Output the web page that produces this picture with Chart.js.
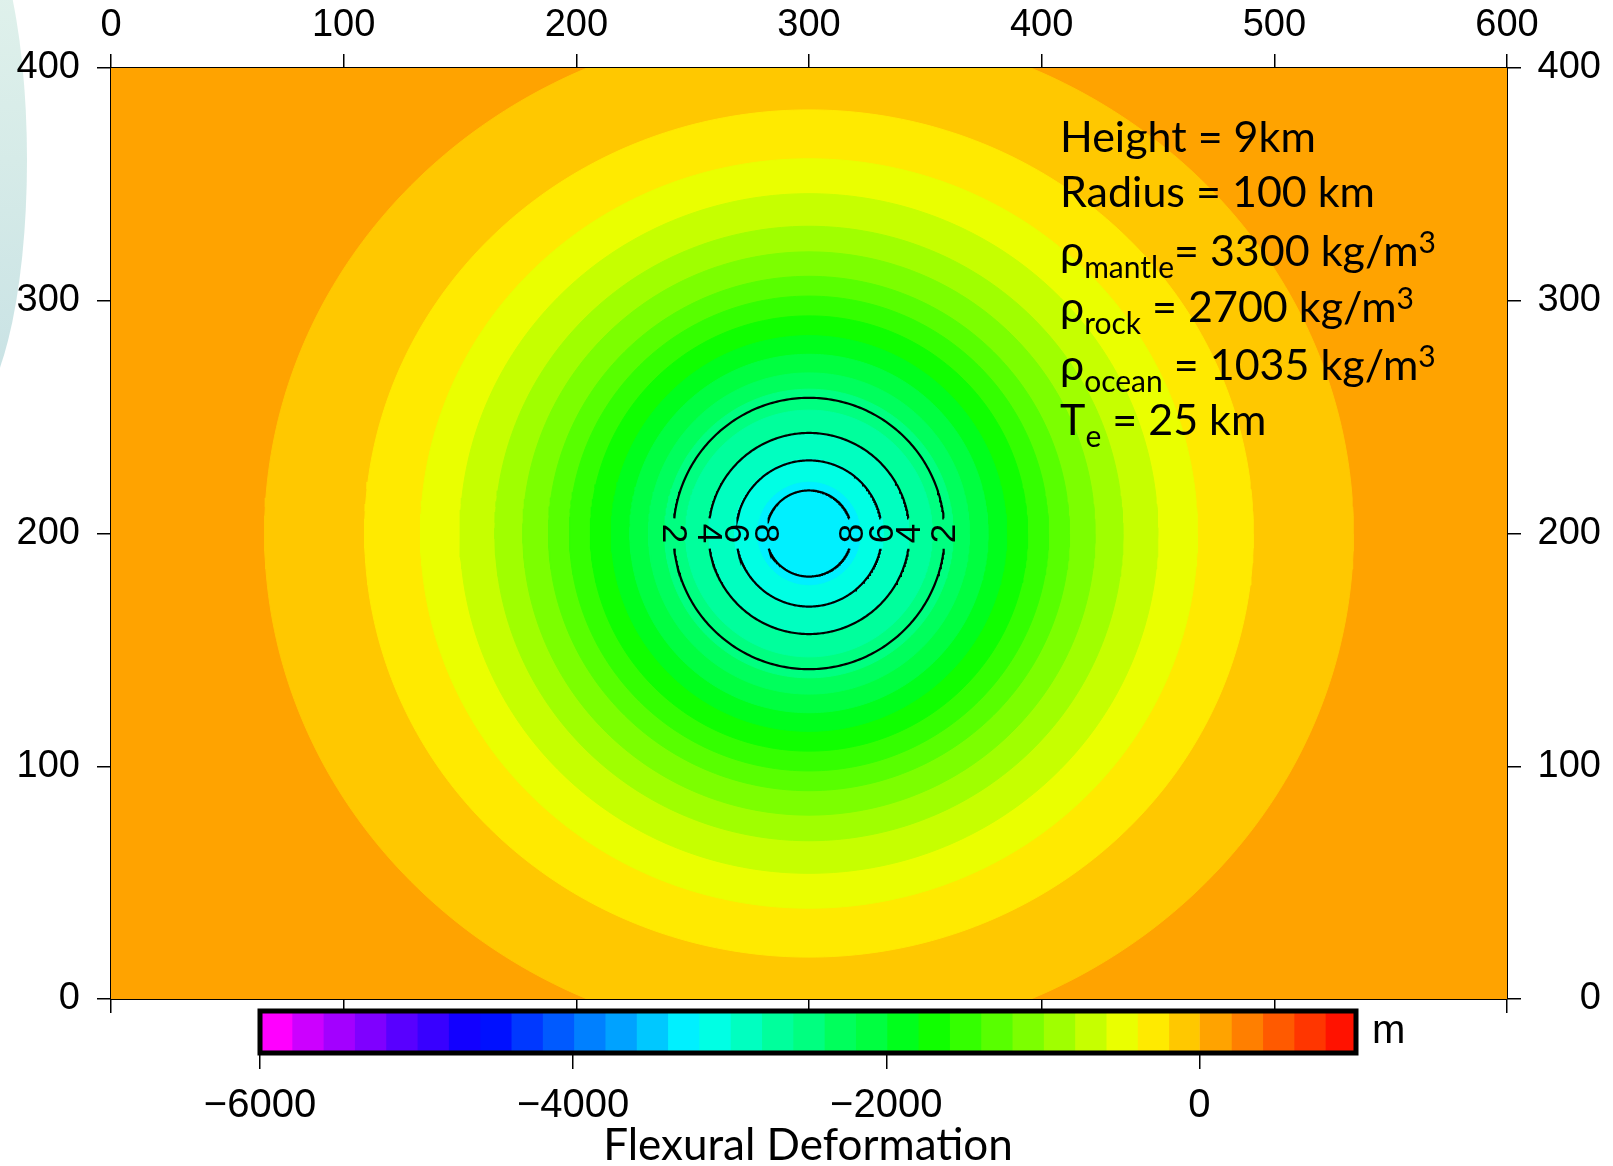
<!DOCTYPE html>
<html>
<head>
<meta charset="utf-8">
<script src="https://cdn.jsdelivr.net/npm/chart.js@4.4.0/dist/chart.umd.min.js"></script>
<style>
  html, body { margin: 0; padding: 0; background: #fff; }
  #wrap { position: relative; width: 1613px; height: 1166px; overflow: hidden; }
  #swoosh { position: absolute; left: -102px; top: -95px; width: 129px; height: 510px; border-radius: 50%;
    background: linear-gradient(180deg, #e4f4ed 0%, #d6ebe8 50%, #c7e1e4 100%); }
  canvas { position: absolute; left: 0; top: 0; }
</style>
</head>
<body>
<div id="wrap">
  <div id="swoosh"></div>
  <canvas id="map" width="1613" height="1166"></canvas>
  <canvas id="bar" width="1613" height="1166"></canvas>
</div>
<script>
// --- data -------------------------------------------------------------
const xRange = [0, 600];          // km
const yRange = [0, 400];          // km
const centre = [300, 200];        // km, centre of the load

// colour scale: bin edges (m) and one colour per bin
const levels = [-6000, -5800, -5600, -5400, -5200, -5000, -4800, -4600, -4400, -4200,
  -4000, -3800, -3600, -3400, -3200, -3000, -2800, -2600, -2400, -2200,
  -2000, -1800, -1600, -1400, -1200, -1000, -800, -600, -400, -200,
  0, 200, 400, 600, 800, 1000];
const palette = ['#ff00ff', '#cc00ff', '#a300ff', '#7f00ff', '#5800ff', '#3800ff', '#1200ff',
  '#0010ff', '#0038ff', '#005aff', '#0080ff', '#00a2ff', '#00c8ff', '#00f0ff',
  '#00ffe4', '#00ffc0', '#00ff9c', '#00ff80', '#00ff5c', '#00ff40', '#00ff1c',
  '#10ff00', '#34ff00', '#58ff00', '#7cff00', '#a0ff00', '#c6ff00', '#eaff00',
  '#ffea00', '#ffc800', '#ffa300', '#ff7f00', '#ff5a00', '#ff3600', '#ff1200'];
const colourTicks = [-6000, -4000, -2000, 0];

// filled bands around the centre: outer half-widths along x and y (km) and colour bin
const bandRadiusX = [22, 32, 43, 53, 62, 69, 77, 85, 94, 103, 112, 123, 135, 150, 167, 191, 234];
const bandRadiusY = [22, 32, 43, 53, 62, 69, 77, 85, 93.5, 102, 110.5, 121, 132, 146, 161, 182, 219];
const bandBin     = [13, 14, 15, 16, 17, 18, 19, 20, 21, 22, 23, 24, 25, 26, 27, 28, 29];
const outsideBin = 30;

// black contour lines
const contourRadius = [58.3, 43.2, 31.4, 18.5];
const contourLabel  = ['2', '4', '6', '8'];
const labelGap = 6.5; // km, half height of the gap left for a label

const ticksX = [0, 100, 200, 300, 400, 500, 600];
const ticksY = [0, 100, 200, 300, 400];

const notes = [
  [['Height = 9km']],
  [['Radius = 100 km']],
  [['ρ'], ['mantle', 'sub'], ['= 3300 kg/m'], ['3', 'sup']],
  [['ρ'], ['rock', 'sub'], [' = 2700 kg/m'], ['3', 'sup']],
  [['ρ'], ['ocean', 'sub'], [' = 1035 kg/m'], ['3', 'sup']],
  [['T'], ['e', 'sub'], [' = 25 km']]
];

// --- helpers ----------------------------------------------------------
function arc(rx, ry, a0, a1, n) {
  const pts = [];
  for (let i = 0; i <= n; i++) {
    const a = a0 + (a1 - a0) * i / n;
    pts.push({x: centre[0] + rx * Math.cos(a), y: centre[1] + ry * Math.sin(a)});
  }
  return pts;
}

Chart.defaults.font.family = '"Liberation Sans", Arial, sans-serif';
Chart.defaults.color = '#000';

const datasets = [];
contourRadius.forEach(r => {
  const g = Math.asin(labelGap / r);
  datasets.push({data: arc(r, r, g, Math.PI - g, 160), borderColor: '#000', borderWidth: 2.2, pointRadius: 0, fill: false});
  datasets.push({data: arc(r, r, Math.PI + g, 2 * Math.PI - g, 160), borderColor: '#000', borderWidth: 2.2, pointRadius: 0, fill: false});
});
bandRadiusX.forEach((rx, i) => {
  const c = palette[bandBin[i]];
  datasets.push({data: arc(rx, bandRadiusY[i], 0, 2 * Math.PI, 360), borderColor: c, backgroundColor: c,
    borderWidth: 1, pointRadius: 0, fill: 'shape'});
});

const areaFill = {
  id: 'areaFill',
  beforeDatasetsDraw(chart) {
    const a = chart.chartArea, ctx = chart.ctx;
    ctx.save();
    ctx.fillStyle = palette[outsideBin];
    ctx.fillRect(a.left, a.top, a.right - a.left, a.bottom - a.top);
    ctx.restore();
  }
};

const texts = {
  id: 'texts',
  afterDatasetsDraw(chart) {
    const ctx = chart.ctx, sx = chart.scales.x, sy = chart.scales.y;
    ctx.save();
    ctx.fillStyle = '#000';
    // contour labels
    ctx.font = '35px "Liberation Sans", Arial, sans-serif';
    ctx.textAlign = 'center';
    ctx.textBaseline = 'middle';
    const py = sy.getPixelForValue(centre[1]);
    contourRadius.forEach((r, i) => {
      [[-1, Math.PI / 2], [1, -Math.PI / 2]].forEach(([s, rot]) => {
        ctx.save();
        ctx.translate(sx.getPixelForValue(centre[0] + s * r), py);
        ctx.rotate(rot);
        ctx.fillText(contourLabel[i], 0, 1);
        ctx.restore();
      });
    });
    // parameter notes
    const main = '43px Lato, "Open Sans", sans-serif';
    const small = '30px Lato, "Open Sans", sans-serif';
    const base = [152, 207, 266, 322, 380, 435];
    ctx.textAlign = 'left';
    ctx.textBaseline = 'alphabetic';
    notes.forEach((line, i) => {
      let x = 1060;
      line.forEach(([t, kind]) => {
        let y = base[i];
        ctx.font = kind ? small : main;
        if (kind === 'sub') y += 12;
        if (kind === 'sup') y -= 13;
        ctx.fillText(t, x, y);
        x += ctx.measureText(t).width;
      });
    });
    ctx.restore();
  }
};

const tickFont = {family: '"Liberation Sans", Arial, sans-serif', size: 38};
const gridOpts = {drawOnChartArea: false, color: '#000', lineWidth: 1.5, tickLength: 14};
const borderOpts = {color: '#000', width: 2};
const setTicks = list => s => { s.ticks = list.map(v => ({value: v})); };

new Chart(document.getElementById('map'), {
  type: 'line',
  data: {datasets},
  options: {
    responsive: false,
    animation: false,
    layout: {padding: {right: 12}},
    plugins: {legend: {display: false}, tooltip: {enabled: false}},
    scales: {
      x: {type: 'linear', position: 'bottom', min: xRange[0], max: xRange[1],
        afterBuildTicks: setTicks(ticksX), ticks: {display: false},
        grid: gridOpts, border: borderOpts, afterFit: s => { s.height = 167; }},
      x2: {type: 'linear', position: 'top', min: xRange[0], max: xRange[1],
        afterBuildTicks: setTicks(ticksX), ticks: {font: tickFont, padding: 6, maxRotation: 0},
        grid: gridOpts, border: borderOpts, afterFit: s => { s.height = 68; }},
      y: {type: 'linear', position: 'left', min: yRange[0], max: yRange[1],
        afterBuildTicks: setTicks(ticksY), ticks: {font: tickFont, padding: 17},
        grid: gridOpts, border: borderOpts, afterFit: s => { s.width = 111; }},
      y2: {type: 'linear', position: 'right', min: yRange[0], max: yRange[1],
        afterBuildTicks: setTicks(ticksY), ticks: {font: tickFont, padding: 17, crossAlign: 'far'},
        grid: gridOpts, border: borderOpts, afterFit: s => { s.width = 94; }}
    }
  },
  plugins: [areaFill, texts]
});

// --- colour bar -------------------------------------------------------
const frame = {
  id: 'frame',
  afterDatasetsDraw(chart) {
    const a = chart.chartArea, ctx = chart.ctx;
    ctx.save();
    ctx.strokeStyle = '#000';
    ctx.lineWidth = 5;
    ctx.strokeRect(a.left, a.top, a.right - a.left, a.bottom - a.top);
    ctx.fillStyle = '#000';
    ctx.font = '40px "Liberation Sans", Arial, sans-serif';
    ctx.textAlign = 'left';
    ctx.textBaseline = 'middle';
    ctx.fillText('m', a.right + 16, (a.top + a.bottom) / 2);
    ctx.restore();
  }
};

new Chart(document.getElementById('bar'), {
  type: 'bar',
  data: {
    labels: [''],
    datasets: palette.map((c, i) => ({
      data: [[levels[i], levels[i + 1]]], backgroundColor: c, borderWidth: 0, inflateAmount: 1,
      barPercentage: 1, categoryPercentage: 1, grouped: false
    }))
  },
  options: {
    indexAxis: 'y',
    responsive: false,
    animation: false,
    layout: {padding: {left: 260, right: 257, top: 1011}},
    plugins: {legend: {display: false}, tooltip: {enabled: false}},
    scales: {
      x: {type: 'linear', min: levels[0], max: levels[levels.length - 1],
        afterBuildTicks: setTicks(colourTicks),
        ticks: {font: {family: '"Liberation Sans Narrow", "Liberation Sans", Arial, sans-serif', size: 40}, padding: 13,
          callback: v => (v < 0 ? '\u2212' + Math.abs(v) : String(v))},
        grid: {drawOnChartArea: false, color: '#000', lineWidth: 1.5, tickLength: 16},
        border: {display: false},
        title: {display: true, text: 'Flexural Deformation', font: {family: 'Lato, "Open Sans", sans-serif', size: 44}, padding: {top: 0, bottom: -6}},
        afterFit: s => { s.height = 113; }},
      y: {display: false}
    }
  },
  plugins: [frame]
});
</script>
</body>
</html>
